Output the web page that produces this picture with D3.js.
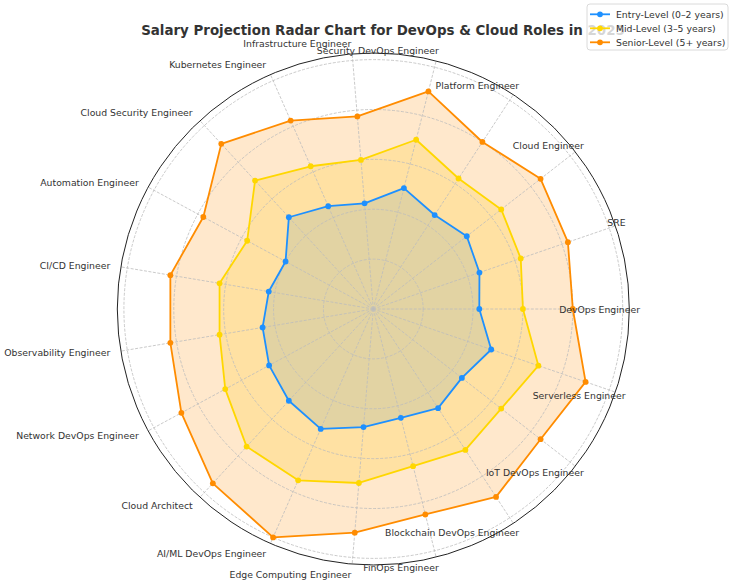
<!DOCTYPE html>
<html>
<head>
<meta charset="utf-8">
<script src="https://cdn.jsdelivr.net/npm/d3@7"></script>
<style>
  body { margin: 0; background: #fff; }
  svg { font-family: 'DejaVu Sans', sans-serif; display: block; }
</style>
</head>
<body>
<svg id="chart"></svg>
<script>
// roles, counter-clockwise from 3 o'clock
const categories = [
  'DevOps Engineer', 'SRE', 'Cloud Engineer', 'Platform Engineer',
  'Security DevOps Engineer', 'Infrastructure Engineer', 'Kubernetes Engineer',
  'Cloud Security Engineer', 'Automation Engineer', 'CI/CD Engineer',
  'Observability Engineer', 'Network DevOps Engineer', 'Cloud Architect',
  'AI/ML DevOps Engineer', 'Edge Computing Engineer', 'FinOps Engineer',
  'Blockchain DevOps Engineer', 'IoT DevOps Engineer', 'Serverless Engineer'
];
// salaries in $k
const entryLevel = [85, 90, 95, 90, 100, 85, 90, 100, 80, 85, 90, 95, 100, 105, 95, 90, 95, 90, 100];
const midLevel = [120, 125, 130, 125, 140, 120, 125, 140, 115, 125, 125, 135, 150, 150, 140, 130, 135, 130, 140];
const seniorLevel = [160, 165, 170, 160, 180, 155, 165, 180, 155, 165, 165, 175, 190, 200, 180, 170, 180, 170, 180];
const seriesNames = ['Entry-Level (0–2 years)', 'Mid-Level (3–5 years)', 'Senior-Level (5+ years)'];
const seriesColors = ['#1E90FF', '#FFD700', '#FF8C00'];
const ringTicks = [40, 80, 120, 160, 200];
const rMax = 205.3;

const W = 734, H = 585;
const cx = 373.3, cy = 309, R = 256;
const N = categories.length;

const svg = d3.select('#chart').attr('width', W).attr('height', H);

const r = d3.scaleLinear().domain([0, rMax]).range([0, R]);
// d3 radial angle (clockwise from 12 o'clock) for category index
const angle = d3.scaleLinear().domain([0, N]).range([Math.PI / 2, Math.PI / 2 - 2 * Math.PI]);

const series = [entryLevel, midLevel, seniorLevel].map((vals, k) => ({
  name: seriesNames[k],
  color: seriesColors[k],
  values: vals
}));

const g = svg.append('g').attr('transform', `translate(${cx},${cy})`);

const radial = d3
  .lineRadial()
  .angle((d, i) => angle(i))
  .radius((d) => r(d))
  .curve(d3.curveLinearClosed);

// fills (patches under the grid)
g.selectAll('.area')
  .data(series)
  .enter()
  .append('path')
  .attr('class', 'area')
  .attr('d', (d) => radial(d.values))
  .attr('fill', (d) => d.color)
  .attr('fill-opacity', 0.2)
  .attr('stroke', 'none');

// grid
const grid = g.append('g').attr('fill', 'none').attr('stroke', '#bdbdbd')
  .attr('stroke-width', 0.8).attr('stroke-dasharray', '3,1.5');
grid.selectAll('circle')
  .data(ringTicks)
  .enter()
  .append('circle')
  .attr('r', (d) => r(d));
grid.selectAll('line')
  .data(categories)
  .enter()
  .append('line')
  .attr('x1', 0).attr('y1', 0)
  .attr('x2', (d, i) => R * Math.sin(angle(i)))
  .attr('y2', (d, i) => -R * Math.cos(angle(i)));

// outer spine
g.append('circle').attr('r', R).attr('fill', 'none').attr('stroke', '#222').attr('stroke-width', 1);

// lines + markers
const sg = g.selectAll('.series')
  .data(series)
  .enter()
  .append('g')
  .attr('class', 'series');
sg.append('path')
  .attr('d', (d) => radial(d.values))
  .attr('fill', 'none')
  .attr('stroke', (d) => d.color)
  .attr('stroke-width', 1.8)
  .attr('stroke-linejoin', 'round');
sg.selectAll('circle')
  .data((d) => d.values.map((v) => ({ v, color: d.color })))
  .enter()
  .append('circle')
  .attr('cx', (d, i) => r(d.v) * Math.sin(angle(i)))
  .attr('cy', (d, i) => -r(d.v) * Math.cos(angle(i)))
  .attr('r', 2.9)
  .attr('fill', (d) => d.color);

// category labels, right aligned just outside the spine
const labelR = 266.7;
g.selectAll('.label')
  .data(categories)
  .enter()
  .append('text')
  .attr('class', 'label')
  .attr('x', (d, i) => labelR * Math.sin(angle(i)))
  .attr('y', (d, i) => -labelR * Math.cos(angle(i)))
  .attr('text-anchor', 'end')
  .attr('dominant-baseline', 'central')
  .attr('font-size', '9.3px')
  .attr('fill', '#333')
  .text((d) => d);

// title
svg.append('text')
  .attr('x', 383)
  .attr('y', 35)
  .attr('text-anchor', 'middle')
  .attr('font-size', '13.4px')
  .attr('font-weight', 'bold')
  .attr('fill', '#333')
  .text('Salary Projection Radar Chart for DevOps & Cloud Roles in 2025');

// legend
const legend = svg.append('g').attr('transform', 'translate(587,4)');
legend.append('rect')
  .attr('width', 141).attr('height', 46)
  .attr('rx', 3)
  .attr('fill', '#fff').attr('fill-opacity', 0.8)
  .attr('stroke', '#d0d0d0').attr('stroke-width', 0.8);
const item = legend.selectAll('.item')
  .data(series)
  .enter()
  .append('g')
  .attr('class', 'item')
  .attr('transform', (d, i) => `translate(0,${10.3 + i * 14})`);
item.append('line')
  .attr('x1', 3).attr('x2', 23)
  .attr('stroke', (d) => d.color).attr('stroke-width', 1.8);
item.append('circle')
  .attr('cx', 13).attr('r', 2.9)
  .attr('fill', (d) => d.color);
item.append('text')
  .attr('x', 29)
  .attr('dominant-baseline', 'central')
  .attr('font-size', '9.3px')
  .attr('fill', '#333')
  .text((d) => d.name);
</script>
</body>
</html>
